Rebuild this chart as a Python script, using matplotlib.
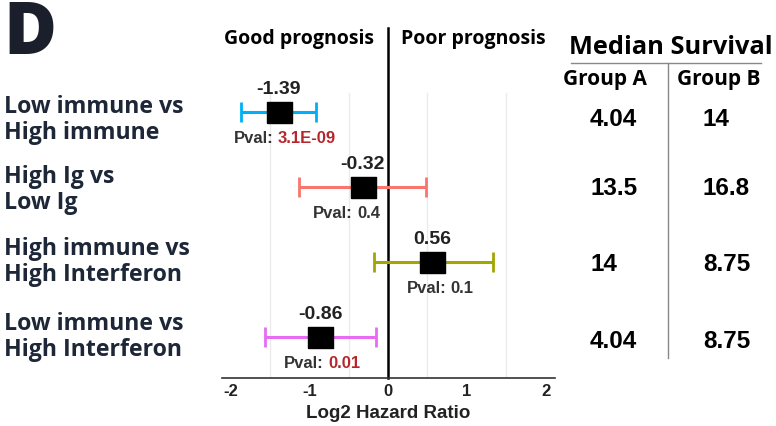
import numpy as np
import matplotlib
matplotlib.use("Agg")
import matplotlib.pyplot as plt
import matplotlib.transforms as mtransforms

# ---- data ----
comparisons = ["Low immune vs\nHigh immune", "High Ig vs\nLow Ig",
               "High immune vs\nHigh Interferon", "Low immune vs\nHigh Interferon"]
log2_hr = [-1.39, -0.32, 0.56, -0.86]
ci_low = [-1.87, -1.13, -0.18, -1.56]
ci_high = [-0.92, 0.48, 1.33, -0.16]
pvals = ["3.1E-09", "0.4", "0.1", "0.01"]
pval_significant = [True, False, False, True]
median_a = ["4.04", "13.5", "14", "4.04"]
median_b = ["14", "16.8", "8.75", "8.75"]
xticks = [-2, -1, 0, 1, 2]
minor_grid = [-1.5, -0.5, 0.5, 1.5]

# ---- style ----
colors = ["#00B0F6", "#F8766D", "#A3A500", "#E76BF3"]
pval_dx = [6, -16, 8, 2]      # horizontal nudge of p-value labels, pixels
label_dy = [8, 3, 0, 0]       # vertical nudge of row labels, pixels (down)
table_dy = [8, 2, 3, 5]       # vertical nudge of table values, pixels (down)
label_col = "#1d2737"
W, H = 776, 426
fig = plt.figure(figsize=(W / 100, H / 100), dpi=100)
renderer = fig.canvas.get_renderer()

def fx(x):
    return x / W

def fy(y):
    return 1 - y / H

def text_width(s, **kw):
    t = fig.text(0, 0, s, **kw)
    w = t.get_window_extent(renderer).width
    t.remove()
    return w

def down(px):
    return mtransforms.ScaledTranslation(0, -px / 100, fig.dpi_scale_trans)

ax = fig.add_axes([fx(222), fy(378), fx(555) - fx(222), (378 - 28) / H])
ax.set_xlim(-2.11, 2.12)
ax.set_ylim(0.453, 5.12)
ypos = np.arange(len(log2_hr))[::-1] + 1

for g in minor_grid:
    ax.plot([g, g], [0.453, 4.25], color="#ebebeb", lw=1.0, zorder=0)
ax.plot([0, 0], [0.453, 5.12], color="black", lw=1.8, zorder=1, clip_on=False)

box = [(-1, -0.84), (1, -0.84), (1, 0.84), (-1, 0.84), (-1, -0.84)]
kw = dict(fontsize=12, fontweight="bold", family="Liberation Sans")
gap = 4.6
for i, y in enumerate(ypos):
    x = log2_hr[i]
    ax.errorbar([x], [y], xerr=[[x - ci_low[i]], [ci_high[i] - x]], fmt="none",
                ecolor=colors[i], elinewidth=2.2, capsize=7, capthick=2.0, zorder=2)
    ax.plot([x], [y], marker=box, markersize=18, color="black", ls="none", zorder=3)
    ax.annotate(f"{x:.2f}", (x, y), xytext=(0, 16), textcoords="offset points",
                ha="center", va="center", fontsize=14, fontweight="bold",
                family="Liberation Sans", color="#222222")
    c2 = "#B5272C" if pval_significant[i] else "#333333"
    w1 = text_width("Pval:", **kw)
    w2 = text_width(pvals[i], **kw)
    left = pval_dx[i] - (w1 + gap + w2) / 2
    ax.annotate("Pval:", (x, y), xytext=(left * 0.72, -19), textcoords="offset points",
                ha="left", va="center", color="#333333", **kw)
    ax.annotate(pvals[i], (x, y), xytext=((left + w1 + gap) * 0.72, -19),
                textcoords="offset points", ha="left", va="center", color=c2, **kw)

for s in ["top", "right", "left"]:
    ax.spines[s].set_visible(False)
ax.spines["bottom"].set_color("#333333")
ax.spines["bottom"].set_linewidth(1.2)
ax.set_yticks([])
ax.set_xticks(xticks)
ax.set_xticklabels([str(t) for t in xticks], fontsize=12, fontweight="bold",
                   family="Liberation Sans", color="#222222")
ax.tick_params(axis="x", length=0, pad=4)
ax.set_xlabel("Log2 Hazard Ratio", fontsize=13.5, fontweight="bold",
              family="Liberation Sans", color="#222222", labelpad=5)

# row labels
blend = mtransforms.blended_transform_factory(fig.transFigure, ax.transData)
for i, y in enumerate(ypos):
    fig.text(fx(4), y, comparisons[i], transform=blend + down(label_dy[i]),
             ha="left", va="center", fontsize=16.7, fontweight="bold",
             family="Open Sans", color=label_col, linespacing=1.12)

# header
fig.text(fx(3), fy(35), "D", fontsize=52, fontweight="heavy", family="Open Sans",
         color="#1a1f2b", ha="left", va="center")
fig.text(fx(374), fy(39), "Good prognosis", fontsize=14, fontweight="bold",
         family="Open Sans", color="black", ha="right", va="center")
fig.text(fx(401), fy(39), "Poor prognosis", fontsize=14, fontweight="bold",
         family="Open Sans", color="black", ha="left", va="center")

# median survival table
fig.text(fx(671), fy(48), "Median Survival", fontsize=18.3, fontweight="bold",
         family="Open Sans", color="black", ha="center", va="center")
fig.add_artist(plt.Line2D([fx(571), fx(761)], [fy(63), fy(63)], color="#888888", lw=1.0))
fig.add_artist(plt.Line2D([fx(668), fx(668)], [fy(63), fy(358)], color="#888888", lw=1.0))
fig.text(fx(605), fy(80), "Group A", fontsize=15, fontweight="bold",
         family="Open Sans", color="black", ha="center", va="center")
fig.text(fx(719), fy(80), "Group B", fontsize=15, fontweight="bold",
         family="Open Sans", color="black", ha="center", va="center")
for i, y in enumerate(ypos):
    fig.text(fx(590), y, median_a[i], transform=blend + down(table_dy[i]),
             ha="left", va="center", fontsize=17.5, fontweight="bold",
             family="Liberation Sans", color="black")
    fig.text(fx(703), y, median_b[i], transform=blend + down(table_dy[i]),
             ha="left", va="center", fontsize=17.5, fontweight="bold",
             family="Liberation Sans", color="black")

fig.savefig("out.png", dpi=100)
